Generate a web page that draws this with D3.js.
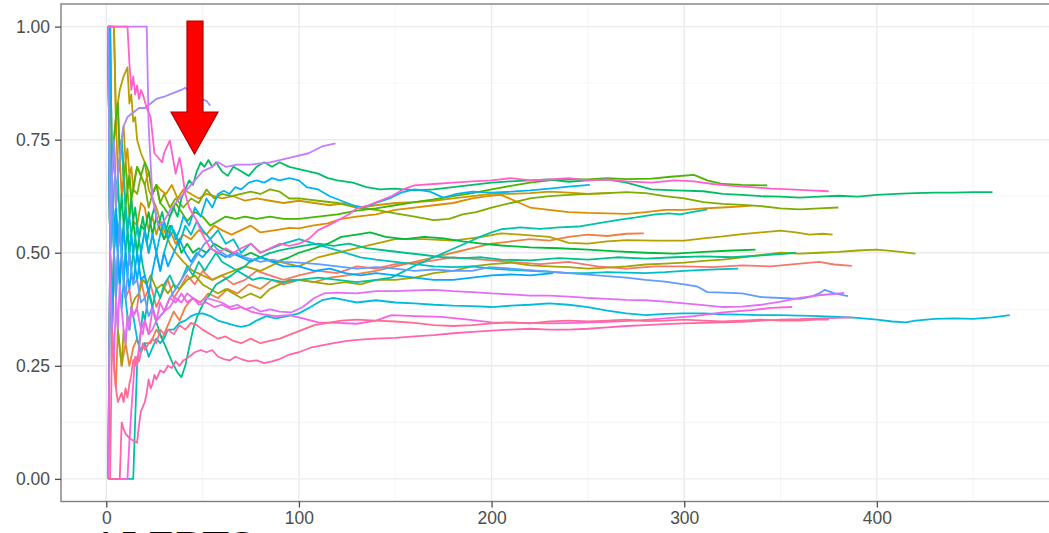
<!DOCTYPE html>
<html>
<head>
<meta charset="utf-8">
<script src="https://cdn.jsdelivr.net/npm/d3@7"></script>
<style>
  html, body { margin: 0; padding: 0; background: #ffffff; }
  svg { display: block; }
  .tick text { font-family: "Liberation Sans", Arial, sans-serif; fill: #4d4d4d; }
</style>
</head>
<body>
<div id="chart"></div>
<script>
// Running proportion of successes after n trials, one line per run.
// Each run is a list of [n, proportion] pairs.
const run01 = [[1,0],[2,0.5],[3,0.33],[4,0.5],[5,0.4],[6,0.5],[7,0.43],[8,0.5],[10,0.4],[12,0.42],[14,0.36],[16,0.38],[18,0.44],[20,0.4],[23,0.43],[26,0.38],[29,0.41],[32,0.44],[35,0.4],[38,0.42],[42,0.45],[46,0.43],[50,0.46],[55,0.44],[60,0.45],[66,0.43],[72,0.44],[78,0.46],[85,0.45],[92,0.44],[100,0.45],[110,0.46],[120,0.455],[130,0.47],[140,0.465],[150,0.475],[165,0.48],[180,0.49],[195,0.485],[210,0.48],[225,0.475],[240,0.48],[255,0.47],[270,0.465],[285,0.47],[300,0.47],[315,0.468],[330,0.472],[345,0.47],[360,0.476],[370,0.48],[378,0.474],[387,0.471]];
const run02 = [[1,1],[2,0.5],[3,0.33],[4,0.25],[5,0.2],[6,0.33],[8,0.25],[10,0.3],[12,0.25],[14,0.29],[16,0.31],[18,0.28],[20,0.3],[23,0.3],[26,0.33],[29,0.31],[32,0.34],[35,0.37],[38,0.35],[41,0.38],[45,0.4],[49,0.39],[53,0.41],[58,0.4],[63,0.42],[68,0.41],[74,0.43],[80,0.42],[86,0.44],[92,0.43],[100,0.44],[108,0.435],[116,0.445],[125,0.45],[133,0.455],[140,0.46],[150,0.47],[160,0.48],[170,0.49],[180,0.5],[190,0.51],[200,0.52],[210,0.525],[220,0.53],[230,0.527],[240,0.535],[250,0.54],[260,0.537],[270,0.542],[279,0.543]];
const run03 = [[1,1],[2,1],[3,0.67],[4,0.75],[5,0.8],[6,0.67],[7,0.71],[8,0.625],[9,0.67],[10,0.7],[11,0.64],[12,0.67],[13,0.62],[14,0.57],[16,0.56],[18,0.61],[20,0.6],[22,0.55],[24,0.58],[26,0.54],[28,0.57],[30,0.53],[33,0.55],[36,0.52],[40,0.54],[44,0.53],[48,0.55],[52,0.54],[56,0.56],[60,0.55],[65,0.54],[70,0.55],[75,0.56],[80,0.545],[88,0.55],[95,0.555],[100,0.554],[107,0.56],[115,0.565],[122,0.575],[130,0.58],[140,0.585],[150,0.595],[160,0.6],[170,0.605],[180,0.61],[190,0.62],[198,0.625],[205,0.628],[212,0.615],[220,0.6],[230,0.595],[240,0.59],[250,0.588],[260,0.587],[270,0.586],[280,0.59],[290,0.595],[300,0.595],[310,0.598],[320,0.6],[328,0.602],[335,0.604]];
const run04 = [[1,1],[4,1],[5,0.8],[6,0.83],[7,0.71],[8,0.75],[9,0.78],[10,0.7],[11,0.73],[12,0.67],[13,0.69],[14,0.64],[15,0.67],[16,0.69],[18,0.67],[20,0.65],[22,0.68],[24,0.63],[26,0.65],[28,0.64],[31,0.63],[34,0.65],[37,0.62],[40,0.64],[44,0.63],[48,0.62],[52,0.63],[56,0.625],[60,0.62],[66,0.625],[72,0.615],[78,0.62],[85,0.615],[92,0.61],[100,0.615],[108,0.61],[116,0.605],[124,0.61],[132,0.6],[140,0.605],[150,0.61],[160,0.612],[170,0.615],[180,0.62],[190,0.625],[200,0.63],[210,0.63],[220,0.632],[230,0.635],[240,0.633],[250,0.63],[262,0.632]];
const run05 = [[1,1],[4,1],[5,0.8],[6,0.83],[7,0.86],[8,0.875],[9,0.89],[10,0.9],[11,0.91],[12,0.83],[13,0.85],[14,0.79],[15,0.8],[16,0.75],[18,0.72],[20,0.7],[22,0.64],[24,0.62],[26,0.6],[28,0.57],[30,0.55],[33,0.52],[36,0.5],[40,0.48],[45,0.46],[50,0.45],[55,0.44],[60,0.45],[66,0.46],[72,0.47],[80,0.46],[90,0.48],[100,0.47],[110,0.49],[120,0.5],[130,0.51],[140,0.52],[150,0.53],[165,0.53],[180,0.527],[195,0.535],[205,0.543],[215,0.54],[230,0.535],[240,0.522],[250,0.52],[260,0.525],[270,0.528],[285,0.527],[300,0.527],[310,0.532],[320,0.536],[330,0.541],[340,0.545],[350,0.549],[358,0.545],[365,0.54],[372,0.542],[377,0.54]];
const run06 = [[1,1],[2,0.5],[3,0.33],[4,0.5],[5,0.4],[6,0.33],[7,0.29],[8,0.25],[9,0.33],[10,0.3],[11,0.36],[12,0.33],[13,0.38],[15,0.4],[17,0.41],[19,0.44],[21,0.43],[23,0.45],[26,0.42],[29,0.43],[32,0.41],[35,0.43],[38,0.42],[42,0.44],[46,0.45],[50,0.43],[54,0.42],[58,0.41],[62,0.42],[66,0.41],[70,0.4],[75,0.41],[80,0.4],[85,0.42],[90,0.43],[95,0.44],[100,0.44],[108,0.435],[116,0.43],[124,0.435],[132,0.43],[140,0.44],[150,0.44],[160,0.445],[170,0.455],[180,0.46],[190,0.47],[200,0.475],[210,0.478],[220,0.472],[230,0.47],[240,0.468],[250,0.465],[260,0.467],[270,0.47],[280,0.474],[290,0.476],[300,0.478],[310,0.482],[320,0.485],[330,0.49],[340,0.495],[350,0.5],[360,0.498],[370,0.5],[380,0.502],[390,0.505],[400,0.507],[410,0.503],[420,0.498]];
const run07 = [[1,1],[2,1],[3,0.67],[4,0.75],[5,0.6],[6,0.67],[7,0.71],[8,0.75],[9,0.67],[10,0.7],[11,0.64],[12,0.58],[13,0.62],[14,0.64],[16,0.63],[18,0.67],[20,0.65],[22,0.6],[24,0.63],[26,0.65],[28,0.61],[30,0.63],[33,0.6],[36,0.62],[40,0.6],[44,0.62],[48,0.61],[52,0.64],[56,0.62],[60,0.63],[65,0.625],[70,0.63],[75,0.635],[80,0.63],[85,0.64],[90,0.635],[95,0.62],[100,0.62],[110,0.615],[120,0.61],[130,0.6],[140,0.595],[150,0.587],[160,0.58],[170,0.572],[178,0.575],[185,0.585],[192,0.59],[200,0.6],[210,0.61],[220,0.62],[230,0.625],[240,0.628],[250,0.63],[260,0.632],[270,0.634],[280,0.632],[290,0.625],[300,0.62],[310,0.612],[320,0.608],[330,0.606],[340,0.603],[350,0.598],[360,0.596],[370,0.598],[380,0.6]];
const run08 = [[1,1],[2,0.5],[3,0.67],[4,0.75],[5,0.8],[6,0.83],[7,0.71],[8,0.75],[9,0.67],[10,0.6],[11,0.64],[12,0.67],[13,0.62],[14,0.64],[16,0.69],[18,0.67],[20,0.7],[22,0.68],[24,0.63],[26,0.65],[28,0.61],[30,0.6],[33,0.58],[36,0.61],[39,0.59],[42,0.57],[46,0.59],[50,0.58],[54,0.56],[58,0.57],[62,0.58],[67,0.575],[72,0.58],[78,0.575],[85,0.58],[92,0.575],[100,0.575],[110,0.58],[120,0.585],[130,0.593],[140,0.598],[150,0.605],[160,0.612],[170,0.618],[180,0.625],[190,0.632],[200,0.64],[210,0.648],[220,0.655],[230,0.66],[240,0.663],[250,0.662],[260,0.665],[270,0.663],[283,0.664],[293,0.668],[305,0.672],[312,0.66],[320,0.652],[330,0.65],[343,0.649]];
const run09 = [[1,1],[2,0.5],[3,0.67],[4,0.5],[5,0.6],[6,0.5],[7,0.57],[8,0.5],[9,0.56],[10,0.6],[11,0.55],[12,0.5],[13,0.54],[14,0.57],[16,0.5],[18,0.56],[20,0.55],[22,0.59],[24,0.54],[26,0.58],[28,0.55],[30,0.53],[33,0.56],[36,0.54],[39,0.5],[42,0.52],[45,0.5],[48,0.51],[52,0.5],[56,0.52],[60,0.51],[65,0.5],[70,0.49],[75,0.5],[80,0.49],[88,0.48],[95,0.49],[100,0.5],[108,0.51],[115,0.52],[122,0.535],[130,0.54],[137,0.545],[145,0.535],[155,0.53],[165,0.535],[175,0.532],[185,0.525],[195,0.52],[205,0.516],[220,0.512],[235,0.51],[250,0.507],[265,0.503],[280,0.5],[295,0.498],[310,0.502],[325,0.505],[337,0.507]];
const run10 = [[1,0],[2,0.5],[3,0.33],[4,0.5],[5,0.6],[6,0.5],[7,0.57],[8,0.63],[9,0.56],[10,0.6],[11,0.55],[12,0.58],[13,0.62],[14,0.57],[15,0.6],[17,0.53],[19,0.58],[21,0.52],[23,0.57],[25,0.6],[27,0.56],[29,0.59],[31,0.55],[33,0.58],[35,0.6],[37,0.58],[39,0.62],[41,0.64],[43,0.66],[45,0.65],[47,0.68],[49,0.7],[51,0.69],[53,0.705],[55,0.69],[57,0.7],[60,0.68],[63,0.67],[66,0.69],[70,0.68],[74,0.67],[78,0.69],[82,0.7],[86,0.69],[90,0.7],[95,0.69],[100,0.685],[105,0.68],[110,0.675],[115,0.665],[120,0.66],[128,0.655],[135,0.645],[142,0.64],[150,0.642],[160,0.638],[170,0.64],[180,0.645],[190,0.65],[200,0.655],[210,0.658],[220,0.66],[230,0.662],[240,0.657],[250,0.66],[260,0.662],[270,0.655],[283,0.64],[295,0.638],[310,0.636],[320,0.63],[330,0.628],[340,0.625],[350,0.624],[360,0.622],[370,0.624],[380,0.626],[390,0.624],[400,0.628],[410,0.63],[420,0.632],[430,0.633],[440,0.633],[450,0.634],[460,0.634]];
const run11 = [[1,1],[2,0.5],[3,0.67],[4,0.5],[5,0.6],[6,0.67],[7,0.57],[8,0.5],[9,0.44],[10,0.5],[11,0.55],[12,0.5],[13,0.46],[14,0.5],[15,0.53],[16,0.5],[17,0.47],[18,0.5],[19,0.47],[21,0.43],[23,0.4],[25,0.36],[28,0.32],[31,0.29],[34,0.26],[37,0.235],[39,0.225],[41,0.25],[43,0.29],[45,0.33],[47,0.357],[50,0.385],[54,0.41],[57,0.43],[61,0.44],[65,0.45],[68,0.46],[72,0.47],[75,0.483],[80,0.49],[84,0.498],[90,0.505],[96,0.51],[102,0.515],[110,0.52],[118,0.515],[126,0.52],[135,0.51],[145,0.505],[155,0.5],[165,0.495],[175,0.49],[185,0.488],[195,0.49],[205,0.485],[220,0.483],[235,0.488],[250,0.485],[265,0.49],[280,0.487],[295,0.49],[310,0.492],[325,0.49],[340,0.494],[350,0.497],[358,0.5]];
const run12 = [[1,0],[14,0],[15,0.13],[16,0.25],[17,0.29],[18,0.33],[19,0.37],[20,0.35],[22,0.41],[24,0.38],[26,0.42],[28,0.4],[30,0.43],[33,0.45],[36,0.42],[39,0.44],[42,0.47],[45,0.45],[48,0.48],[51,0.46],[54,0.48],[57,0.5],[60,0.48],[64,0.47],[68,0.46],[72,0.45],[76,0.44],[80,0.445],[86,0.44],[92,0.435],[100,0.44],[110,0.445],[120,0.44],[130,0.435],[140,0.44],[148,0.445],[155,0.46],[162,0.475],[170,0.49],[178,0.505],[186,0.52],[194,0.535],[200,0.545],[205,0.552],[215,0.556],[225,0.553],[235,0.556],[245,0.558],[255,0.565],[265,0.572],[275,0.578],[285,0.585],[292,0.587],[298,0.585],[304,0.59],[312,0.596]];
const run13 = [[1,1],[2,0.5],[3,0.67],[4,0.75],[5,0.6],[6,0.67],[7,0.71],[8,0.75],[9,0.67],[10,0.6],[11,0.55],[12,0.58],[13,0.54],[14,0.5],[16,0.56],[18,0.5],[20,0.55],[22,0.5],[24,0.54],[26,0.5],[28,0.46],[30,0.5],[32,0.53],[35,0.55],[38,0.52],[41,0.56],[44,0.54],[47,0.57],[50,0.55],[54,0.53],[58,0.55],[62,0.52],[66,0.53],[70,0.5],[75,0.52],[80,0.5],[86,0.51],[92,0.52],[100,0.53],[108,0.52],[116,0.51],[124,0.5],[132,0.49],[140,0.485],[150,0.48],[160,0.475],[170,0.47],[180,0.468],[190,0.47],[200,0.465],[210,0.462],[220,0.46],[230,0.458],[240,0.455],[250,0.455],[260,0.457],[270,0.456],[280,0.455],[290,0.457],[300,0.46],[310,0.462],[320,0.464],[328,0.465]];
const run14 = [[1,0],[2,0.5],[3,0.67],[4,0.5],[5,0.4],[6,0.5],[7,0.43],[8,0.375],[9,0.44],[10,0.4],[11,0.36],[12,0.33],[13,0.38],[14,0.36],[16,0.31],[18,0.28],[20,0.3],[22,0.27],[24,0.29],[26,0.31],[28,0.3],[30,0.31],[32,0.33],[35,0.33],[38,0.345],[41,0.35],[44,0.36],[47,0.365],[50,0.366],[54,0.36],[58,0.35],[62,0.345],[66,0.34],[70,0.336],[74,0.34],[78,0.35],[83,0.36],[88,0.355],[94,0.36],[100,0.366],[106,0.38],[112,0.395],[118,0.4],[124,0.395],[130,0.39],[140,0.395],[150,0.39],[160,0.388],[170,0.385],[180,0.383],[190,0.382],[200,0.38],[210,0.383],[220,0.385],[230,0.388],[240,0.385],[250,0.38],[260,0.372],[270,0.366],[280,0.362],[290,0.365],[300,0.366],[310,0.366],[320,0.364],[330,0.363],[340,0.362],[350,0.362],[360,0.361],[370,0.36],[380,0.358],[390,0.356],[400,0.352],[408,0.348],[415,0.346],[420,0.35],[430,0.354],[440,0.355],[450,0.354],[460,0.357],[469,0.362]];
const run15 = [[1,1],[2,1],[3,0.67],[4,0.5],[5,0.6],[6,0.5],[7,0.57],[8,0.5],[9,0.44],[10,0.5],[11,0.45],[12,0.5],[13,0.54],[14,0.5],[16,0.44],[18,0.5],[20,0.55],[22,0.5],[24,0.54],[26,0.5],[28,0.54],[30,0.57],[32,0.53],[34,0.56],[36,0.53],[38,0.55],[40,0.58],[43,0.56],[46,0.6],[49,0.58],[52,0.62],[55,0.6],[58,0.63],[61,0.637],[64,0.63],[67,0.645],[70,0.64],[74,0.655],[78,0.66],[82,0.655],[86,0.665],[90,0.66],[95,0.665],[100,0.66],[104,0.645],[110,0.64],[116,0.625],[122,0.615],[128,0.605],[134,0.6],[140,0.61],[147,0.62],[153,0.633],[160,0.64],[168,0.635],[175,0.622],[182,0.63],[190,0.635],[200,0.633],[210,0.635],[220,0.638],[230,0.642],[240,0.646],[251,0.65]];
const run16 = [[1,1],[2,0.5],[3,0.33],[4,0.5],[5,0.6],[6,0.5],[7,0.43],[8,0.5],[9,0.56],[10,0.5],[11,0.45],[12,0.42],[13,0.46],[14,0.43],[16,0.5],[18,0.44],[20,0.45],[22,0.41],[24,0.46],[26,0.5],[28,0.46],[30,0.5],[32,0.47],[35,0.5],[38,0.53],[41,0.5],[44,0.48],[47,0.5],[50,0.49],[54,0.51],[58,0.5],[62,0.49],[66,0.5],[70,0.49],[75,0.48],[80,0.49],[86,0.48],[92,0.47],[100,0.47],[108,0.46],[116,0.465],[124,0.455],[132,0.45],[140,0.455],[150,0.45],[160,0.445],[170,0.44],[180,0.44],[190,0.445],[200,0.45],[210,0.452],[220,0.45],[232,0.455]];
const run17 = [[1,1],[2,0.5],[3,0.67],[4,0.5],[5,0.4],[6,0.5],[7,0.57],[8,0.5],[9,0.44],[10,0.4],[11,0.45],[12,0.5],[13,0.46],[14,0.43],[16,0.44],[18,0.39],[20,0.4],[22,0.36],[24,0.38],[26,0.35],[28,0.36],[30,0.37],[33,0.4],[36,0.42],[39,0.44],[42,0.46],[45,0.48],[48,0.5],[51,0.52],[54,0.53],[57,0.51],[60,0.5],[64,0.49],[68,0.5],[72,0.49],[76,0.485],[80,0.48],[86,0.485],[92,0.48],[100,0.478],[110,0.475],[120,0.47],[130,0.465],[140,0.468],[150,0.465],[160,0.46],[170,0.463],[180,0.46],[190,0.46],[199,0.468],[210,0.465],[225,0.46],[240,0.455],[255,0.45],[270,0.445],[280,0.44],[290,0.436],[300,0.43],[307,0.425],[312,0.413],[320,0.412],[330,0.41],[340,0.402],[350,0.4],[360,0.398],[366,0.403],[370,0.41],[373,0.418],[378,0.41],[385,0.404]];
const run18 = [[1,1],[2,0.5],[3,0.67],[4,0.75],[5,0.6],[6,0.67],[7,0.71],[8,0.75],[9,0.78],[11,0.8],[14,0.81],[17,0.82],[20,0.82],[23,0.83],[26,0.84],[30,0.845],[33,0.85],[36,0.855],[39,0.86],[41,0.865],[43,0.855],[46,0.845],[49,0.84],[52,0.836],[54,0.825]];
const run19 = [[1,1],[21,1],[22,0.78],[24,0.62],[27,0.56],[30,0.57],[34,0.6],[38,0.62],[42,0.64],[46,0.66],[50,0.68],[55,0.69],[58,0.7],[62,0.69],[68,0.695],[75,0.695],[85,0.7],[95,0.71],[105,0.72],[112,0.735],[119,0.742]];
const run20 = [[1,0],[2,0.5],[3,0.33],[4,0.25],[5,0.4],[6,0.33],[7,0.43],[8,0.375],[9,0.33],[10,0.3],[11,0.36],[12,0.33],[13,0.38],[14,0.36],[16,0.375],[18,0.33],[20,0.35],[22,0.32],[24,0.33],[26,0.35],[28,0.36],[30,0.37],[33,0.38],[36,0.4],[39,0.39],[42,0.41],[45,0.4],[48,0.39],[52,0.4],[56,0.395],[60,0.39],[64,0.38],[68,0.385],[72,0.375],[76,0.38],[80,0.37],[85,0.375],[90,0.37],[96,0.368],[102,0.38],[108,0.4],[113,0.41],[120,0.412],[130,0.41],[140,0.415],[150,0.415],[160,0.417],[170,0.418],[180,0.415],[190,0.413],[200,0.41],[210,0.408],[220,0.405],[230,0.405],[240,0.403],[250,0.4],[260,0.398],[270,0.396],[280,0.395],[290,0.392],[300,0.388],[310,0.384],[320,0.38],[330,0.381],[340,0.385],[350,0.392],[360,0.4],[370,0.406],[383,0.411]];
const run21 = [[1,0],[11,0],[12,0.083],[13,0.15],[14,0.21],[15,0.27],[16,0.25],[17,0.29],[18,0.33],[19,0.32],[20,0.35],[22,0.32],[24,0.375],[26,0.35],[28,0.39],[30,0.37],[33,0.4],[36,0.39],[39,0.41],[42,0.39],[45,0.4],[48,0.385],[52,0.39],[56,0.38],[60,0.385],[65,0.375],[70,0.38],[75,0.37],[80,0.365],[88,0.36],[95,0.362],[102,0.355],[110,0.346],[120,0.345],[130,0.343],[140,0.35],[148,0.362],[160,0.36],[174,0.358],[188,0.352],[200,0.346],[215,0.345],[230,0.344],[245,0.345],[260,0.347],[275,0.35],[290,0.355],[305,0.36],[320,0.368],[335,0.373],[345,0.378],[356,0.38]];
const run22 = [[1,1],[11,1],[12,0.92],[13,0.86],[14,0.89],[15,0.85],[16,0.87],[17,0.84],[18,0.86],[19,0.85],[21,0.82],[23,0.8],[24,0.76],[25,0.72],[27,0.71],[29,0.7],[30,0.72],[31,0.73],[33,0.748],[35,0.7],[36,0.675],[38,0.71],[39,0.69],[41,0.63],[43,0.6],[45,0.585],[47,0.57],[50,0.54],[54,0.51],[58,0.5],[62,0.51],[66,0.5],[70,0.51],[75,0.52],[80,0.5],[85,0.51],[90,0.52],[95,0.515],[100,0.52],[105,0.53],[110,0.55],[115,0.56],[120,0.571],[126,0.585],[130,0.598],[136,0.605],[142,0.615],[148,0.625],[154,0.64],[160,0.649],[170,0.652],[180,0.655],[190,0.658],[200,0.66],[210,0.665],[220,0.66],[230,0.662],[240,0.665],[250,0.66],[260,0.662],[270,0.658],[283,0.655],[295,0.66],[305,0.658],[315,0.652],[325,0.648],[335,0.645],[345,0.642],[355,0.64],[365,0.638],[375,0.636]];
const run23 = [[1,0],[7,0],[8,0.125],[9,0.11],[10,0.1],[12,0.09],[14,0.085],[16,0.08],[17,0.12],[18,0.15],[19,0.16],[20,0.17],[21,0.19],[22,0.22],[23,0.2],[24,0.21],[25,0.23],[26,0.22],[28,0.24],[30,0.235],[32,0.25],[34,0.245],[36,0.26],[38,0.25],[40,0.262],[43,0.27],[46,0.28],[49,0.285],[52,0.28],[55,0.285],[58,0.27],[61,0.265],[64,0.262],[67,0.27],[70,0.265],[74,0.26],[78,0.262],[82,0.256],[86,0.26],[90,0.265],[95,0.275],[100,0.28],[106,0.29],[112,0.295],[118,0.3],[125,0.305],[132,0.308],[140,0.31],[150,0.312],[160,0.315],[170,0.318],[180,0.322],[190,0.325],[200,0.328],[210,0.33],[220,0.332],[230,0.33],[240,0.33],[250,0.332],[260,0.335],[270,0.338],[280,0.34],[290,0.342],[300,0.344],[310,0.345],[320,0.346],[330,0.347],[340,0.35],[350,0.352],[360,0.353],[370,0.355],[380,0.356],[387,0.357]];
const run24 = [[1,0],[2,0],[3,0.33],[4,0.25],[5,0.2],[6,0.17],[7,0.18],[8,0.19],[9,0.17],[10,0.2],[11,0.18],[12,0.21],[13,0.23],[14,0.263],[15,0.25],[16,0.27],[17,0.26],[18,0.28],[19,0.3],[20,0.285],[22,0.3],[24,0.31],[26,0.3],[28,0.33],[30,0.32],[32,0.33],[35,0.32],[38,0.34],[41,0.33],[44,0.345],[47,0.34],[50,0.33],[54,0.32],[58,0.31],[62,0.315],[66,0.305],[70,0.3],[75,0.31],[80,0.3],[85,0.305],[90,0.31],[96,0.32],[102,0.33],[108,0.34],[115,0.345],[122,0.35],[130,0.352],[140,0.35],[150,0.348],[160,0.345],[170,0.34],[180,0.338],[190,0.34],[200,0.344],[210,0.346],[220,0.344],[230,0.348],[240,0.35],[250,0.348],[260,0.35],[270,0.352],[280,0.349],[290,0.35],[300,0.352],[310,0.35],[320,0.348],[330,0.35],[340,0.352],[350,0.35],[360,0.35],[368,0.352],[375,0.352]];

const runIds = ["run01","run02","run03","run04","run05","run06","run07","run08","run09","run10","run11","run12",
                "run13","run14","run15","run16","run17","run18","run19","run20","run21","run22","run23","run24"];
const runValues = [run01,run02,run03,run04,run05,run06,run07,run08,run09,run10,run11,run12,
                   run13,run14,run15,run16,run17,run18,run19,run20,run21,run22,run23,run24];

const xTicks = [0, 100, 200, 300, 400];
const xMinor = [50, 150, 250, 350, 450];
const yTicks = [0, 0.25, 0.5, 0.75, 1];
const yMinor = [0.125, 0.375, 0.625, 0.875];

// Polar CIE-LUV to sRGB hex (same model as the default discrete hue palette)
function hclLuv(h, c, l) {
  const hr = h * Math.PI / 180;
  const U = c * Math.cos(hr), V = c * Math.sin(hr);
  const Xn = 95.047, Yn = 100, Zn = 108.883;
  const den = Xn + 15 * Yn + 3 * Zn;
  const un = 4 * Xn / den, vn = 9 * Yn / den;
  const Y = l > 8 ? Yn * Math.pow((l + 16) / 116, 3) : Yn * l / 903.3;
  const up = U / (13 * l) + un, vp = V / (13 * l) + vn;
  const X = 9 * Y * up / (4 * vp);
  const Z = 3 * Y / vp - 5 * Y - X / 3;
  const x = X / 100, y = Y / 100, z = Z / 100;
  const lin = [
     3.2404542 * x - 1.5371385 * y - 0.4985314 * z,
    -0.9692660 * x + 1.8760108 * y + 0.0415560 * z,
     0.0556434 * x - 0.2040259 * y + 1.0572252 * z
  ];
  const ch = lin.map(v => {
    const g = v <= 0.0031308 ? 12.92 * v : 1.055 * Math.pow(v, 1 / 2.4) - 0.055;
    return Math.round(Math.max(0, Math.min(1, g)) * 255);
  });
  return d3.rgb(ch[0], ch[1], ch[2]).formatHex();
}

const hueStep = 360 / runIds.length;
const color = d3.scaleOrdinal()
  .domain(runIds)
  .range(runIds.map((_, i) => hclLuv(15 + hueStep * i, 100, 65)));

const W = 1049, H = 533;
const panel = { left: 61, right: 1057, top: 4, bottom: 501.5 };

const x = d3.scaleLinear().domain([-23.5, 493.5]).range([panel.left, panel.right]);
const y = d3.scaleLinear().domain([-0.05, 1.05]).range([panel.bottom, panel.top]);

const svg = d3.select("#chart").append("svg")
  .attr("width", W).attr("height", H);

svg.append("rect").attr("width", W).attr("height", H).attr("fill", "#ffffff");

// grid
const grid = svg.append("g");
grid.selectAll(".xmin").data(xMinor).join("line")
  .attr("x1", d => x(d)).attr("x2", d => x(d))
  .attr("y1", panel.top).attr("y2", panel.bottom)
  .attr("stroke", "#f2f2f2").attr("stroke-width", 0.8);
grid.selectAll(".ymin").data(yMinor).join("line")
  .attr("y1", d => y(d)).attr("y2", d => y(d))
  .attr("x1", panel.left).attr("x2", panel.right)
  .attr("stroke", "#f2f2f2").attr("stroke-width", 0.8);
grid.selectAll(".xmaj").data(xTicks).join("line")
  .attr("x1", d => x(d)).attr("x2", d => x(d))
  .attr("y1", panel.top).attr("y2", panel.bottom)
  .attr("stroke", "#ebebeb").attr("stroke-width", 1.4);
grid.selectAll(".ymaj").data(yTicks).join("line")
  .attr("y1", d => y(d)).attr("y2", d => y(d))
  .attr("x1", panel.left).attr("x2", panel.right)
  .attr("stroke", "#ebebeb").attr("stroke-width", 1.4);

// lines
const line = d3.line().x(d => x(d[0])).y(d => y(d[1]));
svg.append("g")
  .attr("fill", "none")
  .attr("stroke-width", 1.8)
  .attr("stroke-linejoin", "round")
  .selectAll("path")
  .data(runIds.map((id, i) => ({ id, values: runValues[i] })))
  .join("path")
  .attr("stroke", d => color(d.id))
  .attr("d", d => line(d.values));

// panel border
svg.append("rect")
  .attr("x", panel.left).attr("y", panel.top)
  .attr("width", panel.right - panel.left).attr("height", panel.bottom - panel.top)
  .attr("fill", "none").attr("stroke", "#808080").attr("stroke-width", 1.4);

// axes
const yAxis = svg.append("g")
  .attr("transform", `translate(${panel.left},0)`)
  .call(d3.axisLeft(y).tickValues(yTicks).tickFormat(d3.format(".2f")).tickSize(6).tickPadding(5));
const xAxis = svg.append("g")
  .attr("transform", `translate(0,${panel.bottom})`)
  .call(d3.axisBottom(x).tickValues(xTicks).tickFormat(d3.format("d")).tickSize(6).tickPadding(4));
[yAxis, xAxis].forEach(g => {
  g.attr("font-size", 17.5);
  g.select(".domain").remove();
  g.selectAll(".tick line").attr("stroke", "#4d4d4d").attr("stroke-width", 1.3);
  g.selectAll(".tick text").attr("font-size", 17.5).attr("fill", "#555555");
});

// red pointer arrow
const arrow = [[187, 21], [203, 21], [203, 112], [218, 112], [194.5, 154], [171, 112], [187, 112]];
svg.append("path")
  .attr("d", d3.line()(arrow) + "Z")
  .attr("fill", "#ff0000")
  .attr("stroke", "#b00000")
  .attr("stroke-width", 1.2);

// heading below the chart, mostly cut off at the bottom edge
svg.append("text")
  .attr("x", 90).attr("y", 561)
  .attr("font-family", "'Liberation Serif', 'Times New Roman', serif")
  .attr("font-size", 44)
  .attr("fill", "#000000")
  .text("ALERTS");
</script>
</body>
</html>
